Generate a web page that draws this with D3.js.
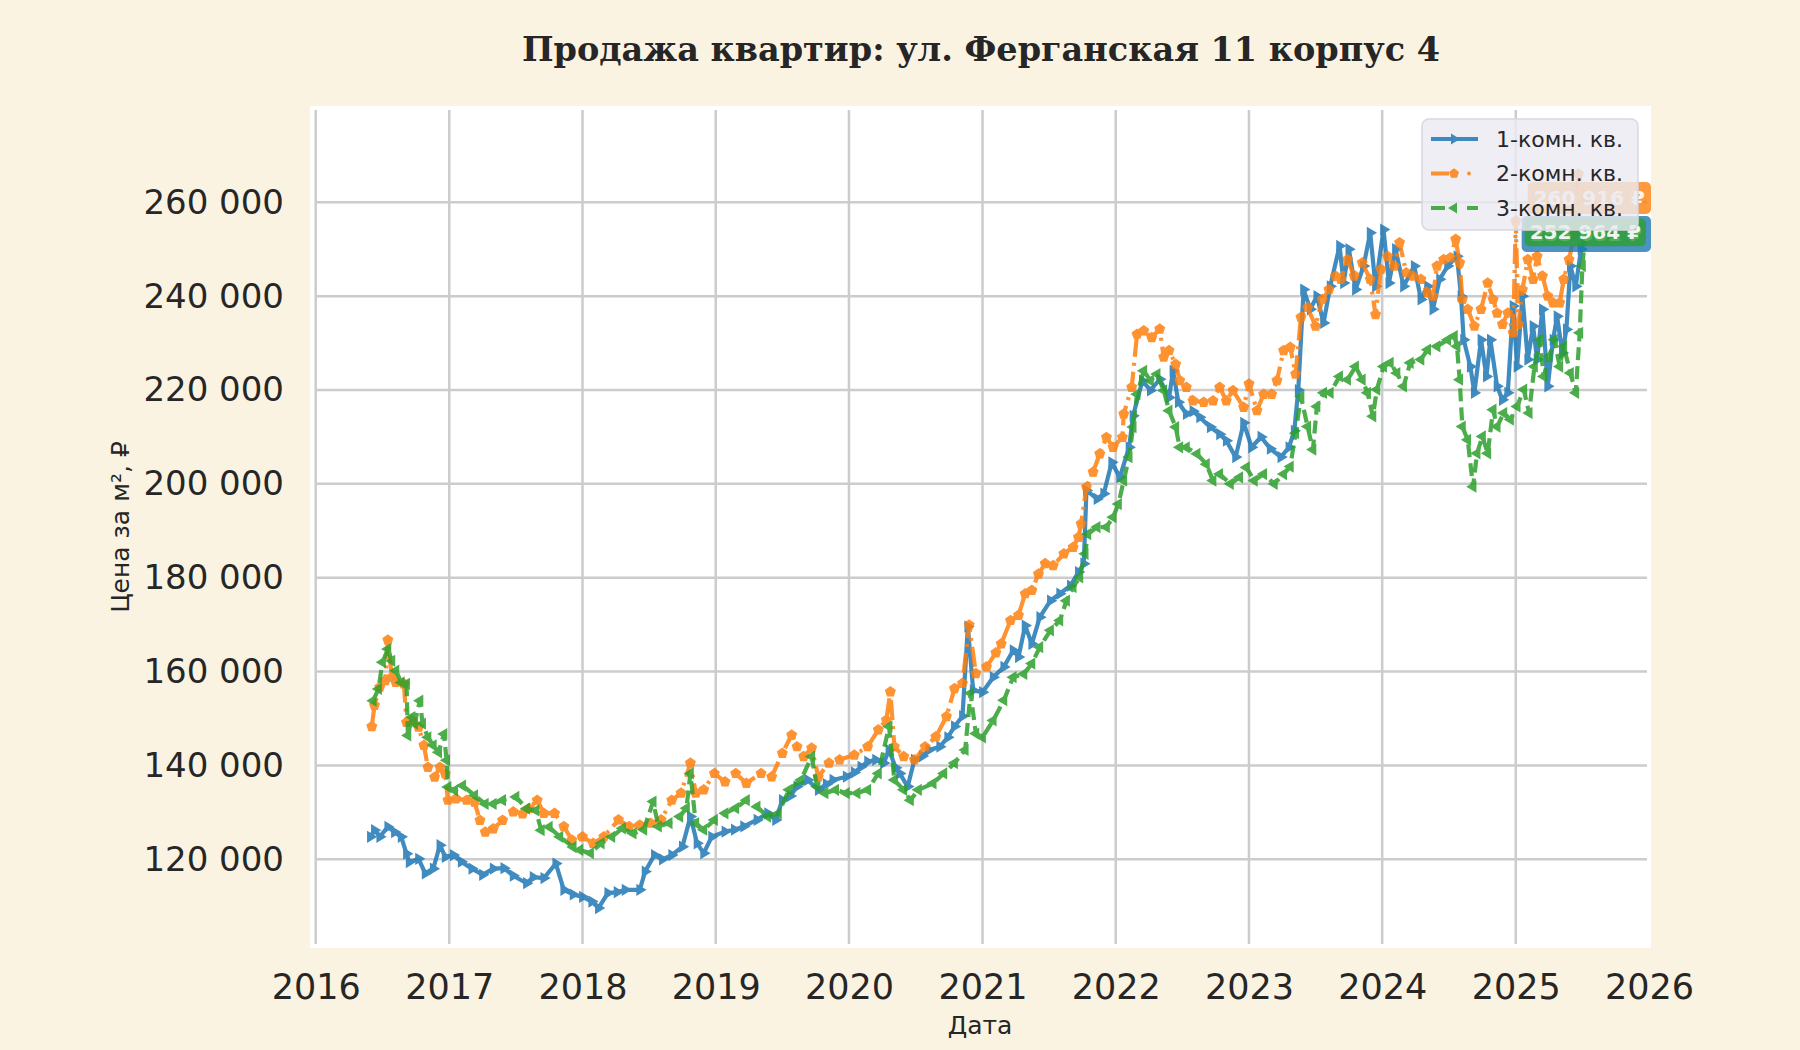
<!DOCTYPE html>
<html>
<head>
<meta charset="utf-8">
<script src="https://cdn.jsdelivr.net/npm/d3@7"></script>
<style>
html,body{margin:0;padding:0;background:#faf3e2;}
svg{display:block;}
</style>
</head>
<body>
<svg id="chart" width="1800" height="1050"></svg>
<script>
// ---------- DATA (decimal year, price in thousand ₽ per m²) ----------
const seriesNames = ["1-комн. кв.", "2-комн. кв.", "3-комн. кв."];
const seriesColors = ["#1f77b4", "#ff7f0e", "#2ca02c"];
const xTickYears = [2016, 2017, 2018, 2019, 2020, 2021, 2022, 2023, 2024, 2025, 2026];
const yTickValues = [120000, 140000, 160000, 180000, 200000, 220000, 240000, 260000];
const lastValues = [253681, 260916, 252964];

const room1 = [
[2016.41,124.8],[2016.44,126.2],[2016.48,124.8],[2016.54,126.9],[2016.59,125.8],[2016.64,124.8],[2016.68,121.2],[2016.70,119.4],
[2016.77,120.1],[2016.82,117.0],[2016.88,118.0],[2016.93,123.0],[2016.97,120.5],[2017.03,120.9],[2017.09,119.5],[2017.17,118.0],
[2017.25,116.7],[2017.33,118.0],[2017.41,118.1],[2017.48,116.5],[2017.58,114.9],[2017.63,116.2],[2017.71,116.0],[2017.80,119.1],
[2017.86,113.5],[2017.93,112.5],[2018.00,112.0],[2018.07,111.0],[2018.12,109.6],[2018.19,112.8],[2018.26,113.0],[2018.32,113.5],
[2018.43,113.5],[2018.47,117.4],[2018.54,120.9],[2018.60,120.0],[2018.67,120.9],[2018.75,122.7],[2018.81,129.1],[2018.86,123.4],
[2018.91,121.3],[2018.97,124.8],[2019.07,125.9],[2019.14,126.3],[2019.21,127.0],[2019.31,128.4],[2019.39,129.8],[2019.45,128.4],
[2019.50,132.6],[2019.56,133.5],[2019.61,135.5],[2019.69,136.9],[2019.77,134.8],[2019.83,136.0],[2019.88,136.9],[2019.98,137.6],
[2020.04,138.5],[2020.09,139.7],[2020.14,140.8],[2020.20,141.2],[2020.26,140.5],[2020.30,143.3],[2020.35,139.5],[2020.38,138.3],
[2020.44,135.5],[2020.49,141.2],[2020.55,142.0],[2020.60,143.3],[2020.68,144.0],[2020.74,146.0],[2020.79,148.3],[2020.85,150.5],
[2020.89,169.6],[2020.93,156.0],[2021.00,155.6],[2021.08,158.8],[2021.16,161.0],[2021.23,164.5],[2021.27,163.1],[2021.32,169.8],
[2021.37,165.9],[2021.43,171.6],[2021.51,175.1],[2021.58,176.6],[2021.66,178.3],[2021.72,181.2],[2021.76,183.0],[2021.78,198.6],
[2021.86,196.8],[2021.91,197.9],[2021.97,204.6],[2022.03,201.4],[2022.10,207.8],[2022.13,214.5],[2022.20,222.0],[2022.26,219.9],
[2022.33,222.3],[2022.40,218.4],[2022.43,224.1],[2022.47,217.4],[2022.53,214.9],[2022.58,215.5],[2022.63,214.2],[2022.71,212.1],
[2022.78,210.6],[2022.83,209.2],[2022.90,205.7],[2022.96,213.0],[2023.02,207.8],[2023.09,210.0],[2023.16,207.5],[2023.24,205.7],
[2023.30,207.8],[2023.34,211.3],[2023.37,220.0],[2023.41,241.4],[2023.46,237.2],[2023.51,240.0],[2023.56,234.3],[2023.61,242.1],
[2023.68,250.7],[2023.71,242.8],[2023.75,250.0],[2023.80,241.4],[2023.86,246.4],[2023.91,253.5],[2023.95,242.1],[2024.01,254.2],
[2024.05,242.8],[2024.10,250.0],[2024.16,242.1],[2024.24,246.4],[2024.29,239.3],[2024.34,242.1],[2024.38,237.2],[2024.43,243.6],
[2024.49,246.4],[2024.56,248.5],[2024.59,240.0],[2024.61,230.7],[2024.66,225.0],[2024.69,219.4],[2024.74,230.7],[2024.78,222.9],
[2024.81,230.7],[2024.86,220.8],[2024.90,217.9],[2024.94,219.4],[2024.98,237.9],[2025.01,225.0],[2025.05,240.0],[2025.09,226.5],
[2025.13,233.6],[2025.16,226.5],[2025.20,237.2],[2025.24,220.8],[2025.28,230.7],[2025.31,235.7],[2025.35,227.9],[2025.38,232.9],
[2025.41,246.4],[2025.45,242.1],[2025.49,250.0],[2025.52,253.7]
];

const room2 = [
[2016.42,148.3],[2016.44,152.8],[2016.48,156.7],[2016.52,158.1],[2016.54,166.7],[2016.57,158.8],[2016.60,157.7],[2016.66,157.4],
[2016.68,149.2],[2016.72,149.6],[2016.77,148.2],[2016.81,144.3],[2016.84,139.6],[2016.89,137.5],[2016.93,139.6],[2016.97,138.2],
[2016.99,132.6],[2017.05,132.9],[2017.13,132.6],[2017.19,132.2],[2017.23,128.3],[2017.27,125.8],[2017.33,126.5],[2017.40,128.3],
[2017.48,130.1],[2017.55,129.7],[2017.60,130.8],[2017.66,132.6],[2017.71,129.8],[2017.79,129.8],[2017.86,127.0],[2017.92,124.1],
[2018.00,124.8],[2018.08,123.4],[2018.16,124.8],[2018.27,128.4],[2018.35,127.0],[2018.43,127.3],[2018.51,127.7],[2018.59,128.4],
[2018.67,132.6],[2018.74,134.1],[2018.81,140.5],[2018.85,134.1],[2018.91,134.8],[2018.99,138.3],[2019.07,136.5],[2019.15,138.3],
[2019.23,136.2],[2019.34,138.3],[2019.42,137.6],[2019.50,142.6],[2019.57,146.5],[2019.61,144.0],[2019.66,141.9],[2019.72,143.7],
[2019.77,137.6],[2019.85,140.5],[2019.93,141.2],[2020.04,142.2],[2020.14,144.0],[2020.22,147.6],[2020.28,149.7],[2020.31,155.7],
[2020.34,144.0],[2020.41,141.9],[2020.49,141.2],[2020.57,144.0],[2020.65,146.1],[2020.73,150.4],[2020.79,156.4],[2020.85,157.5],
[2020.90,169.9],[2020.95,159.6],[2021.03,161.0],[2021.10,164.0],[2021.14,165.9],[2021.21,170.9],[2021.27,172.0],[2021.32,176.6],
[2021.37,177.3],[2021.42,180.8],[2021.47,183.0],[2021.53,182.6],[2021.61,185.1],[2021.68,186.5],[2021.72,188.6],[2021.74,191.5],
[2021.78,199.3],[2021.83,202.5],[2021.88,206.4],[2021.93,209.9],[2021.98,207.8],[2022.05,209.9],[2022.06,214.9],[2022.12,220.6],
[2022.16,231.9],[2022.21,232.6],[2022.27,231.2],[2022.33,233.0],[2022.36,227.0],[2022.40,228.4],[2022.45,225.5],[2022.48,222.0],
[2022.53,220.6],[2022.58,217.7],[2022.66,217.4],[2022.73,217.7],[2022.78,220.6],[2022.83,217.7],[2022.88,219.9],[2022.96,216.3],
[2023.00,221.3],[2023.06,215.6],[2023.11,219.1],[2023.17,219.1],[2023.21,222.0],[2023.26,228.4],[2023.31,229.1],[2023.35,223.4],
[2023.39,235.5],[2023.44,237.6],[2023.50,233.6],[2023.55,239.3],[2023.60,241.4],[2023.65,244.3],[2023.69,243.6],[2023.74,247.8],
[2023.79,244.3],[2023.85,247.1],[2023.91,243.6],[2023.95,236.1],[2023.99,245.7],[2024.04,248.5],[2024.09,246.4],[2024.13,251.4],
[2024.18,245.0],[2024.23,244.3],[2024.29,243.6],[2024.34,240.7],[2024.38,240.0],[2024.41,246.4],[2024.46,247.8],[2024.51,248.2],
[2024.55,252.1],[2024.58,247.1],[2024.60,239.3],[2024.64,237.2],[2024.69,233.6],[2024.74,237.2],[2024.79,242.8],[2024.83,239.3],
[2024.86,236.4],[2024.90,234.0],[2024.94,236.4],[2024.98,232.2],[2025.00,256.0],[2025.02,234.0],[2025.05,241.4],[2025.09,247.8],
[2025.13,243.6],[2025.16,248.5],[2025.20,244.3],[2025.24,240.0],[2025.28,238.6],[2025.33,238.6],[2025.36,243.6],[2025.40,247.8],
[2025.44,253.5],[2025.47,266.0],[2025.52,260.9]
];

const room3 = [
[2016.43,153.8],[2016.47,156.3],[2016.50,162.0],[2016.54,164.8],[2016.57,162.3],[2016.60,160.2],[2016.64,157.7],[2016.68,157.4],
[2016.69,146.4],[2016.72,150.3],[2016.74,148.9],[2016.78,153.8],[2016.80,148.9],[2016.84,146.0],[2016.88,144.3],[2016.92,142.8],
[2016.96,146.7],[2016.98,141.1],[2016.99,135.4],[2017.04,134.7],[2017.10,135.7],[2017.19,133.6],[2017.27,131.8],[2017.33,131.8],
[2017.40,132.6],[2017.50,133.3],[2017.58,130.8],[2017.65,130.4],[2017.69,126.2],[2017.75,126.9],[2017.83,124.8],[2017.93,122.6],
[2017.98,122.0],[2018.06,121.3],[2018.14,123.4],[2018.22,124.8],[2018.30,126.6],[2018.38,125.5],[2018.46,126.3],[2018.53,132.3],
[2018.57,127.0],[2018.65,127.7],[2018.73,129.1],[2018.78,130.9],[2018.81,138.3],[2018.85,127.7],[2018.91,126.3],[2018.99,128.4],
[2019.07,129.8],[2019.15,130.9],[2019.23,132.6],[2019.31,131.2],[2019.39,129.1],[2019.47,129.8],[2019.55,134.8],[2019.64,136.9],
[2019.72,141.9],[2019.76,135.5],[2019.82,134.1],[2019.90,134.8],[2019.98,134.1],[2020.06,134.1],[2020.14,134.8],[2020.22,138.3],
[2020.30,148.3],[2020.34,136.9],[2020.41,134.8],[2020.46,132.6],[2020.52,134.8],[2020.63,136.2],[2020.71,138.3],[2020.79,140.5],
[2020.87,143.3],[2020.91,155.4],[2020.95,146.8],[2021.00,146.0],[2021.08,149.6],[2021.16,153.9],[2021.23,158.8],[2021.31,159.5],
[2021.37,161.7],[2021.43,165.2],[2021.51,168.8],[2021.58,170.9],[2021.63,175.1],[2021.68,178.0],[2021.73,180.1],[2021.77,185.1],
[2021.79,189.3],[2021.86,190.8],[2021.93,190.8],[2021.98,192.9],[2022.02,195.7],[2022.06,200.7],[2022.10,205.7],[2022.13,212.1],
[2022.16,219.1],[2022.21,224.1],[2022.26,222.0],[2022.31,223.4],[2022.36,219.9],[2022.40,215.6],[2022.45,212.1],[2022.48,207.8],
[2022.53,207.8],[2022.61,206.4],[2022.68,204.2],[2022.73,200.7],[2022.78,202.1],[2022.86,200.0],[2022.93,201.4],[2022.98,203.5],
[2023.04,200.7],[2023.11,202.1],[2023.19,200.0],[2023.26,202.1],[2023.31,203.7],[2023.35,210.8],[2023.39,218.6],[2023.44,212.2],
[2023.48,207.3],[2023.51,216.5],[2023.56,219.4],[2023.61,219.4],[2023.68,222.9],[2023.74,222.2],[2023.80,225.0],[2023.85,222.2],
[2023.89,219.4],[2023.93,214.4],[2023.96,220.1],[2024.01,225.0],[2024.06,225.8],[2024.11,223.6],[2024.16,220.8],[2024.21,225.8],
[2024.29,226.5],[2024.34,228.6],[2024.41,229.3],[2024.49,230.7],[2024.54,231.5],[2024.56,229.3],[2024.58,222.2],[2024.60,212.2],
[2024.64,209.4],[2024.68,199.4],[2024.71,206.5],[2024.75,210.1],[2024.79,206.5],[2024.83,215.8],[2024.86,212.2],[2024.91,215.1],
[2024.96,213.7],[2025.01,216.5],[2025.06,220.1],[2025.10,215.1],[2025.14,225.0],[2025.18,230.7],[2025.21,222.9],[2025.25,227.2],
[2025.29,230.7],[2025.33,225.0],[2025.36,229.3],[2025.41,223.6],[2025.45,219.4],[2025.48,232.2],[2025.50,246.4],[2025.52,253.0]
];

const allSeries = [room1, room2, room3];

// ---------- HELPERS ----------
function toDate(y) {
  const yr = Math.floor(y);
  const a = Date.UTC(yr, 0, 1), b = Date.UTC(yr + 1, 0, 1);
  return new Date(a + (y - yr) * (b - a));
}
const fmt = v => d3.format(",")(v).replace(/,/g, " ");

// ---------- LAYOUT ----------
const svg = d3.select("#chart");
const W = 1800, H = 1050;
const plot = {left: 315.7, right: 1647, top: 110, bottom: 944};

svg.append("rect").attr("width", W).attr("height", H).attr("fill", "#faf3e2");
svg.append("rect").attr("x", 310).attr("y", 106).attr("width", 1341).attr("height", 842).attr("fill", "#ffffff");

const x = d3.scaleUtc()
  .domain([toDate(2016), toDate(2026)])
  .range([315.7, 1649]);
const y = d3.scaleLinear()
  .domain([120000, 260000])
  .range([859.3, 202.3]);

// grid
const grid = svg.append("g");
grid.selectAll("line.v").data(xTickYears.filter(d => d < 2026)).join("line")
  .attr("x1", d => x(toDate(d))).attr("x2", d => x(toDate(d)))
  .attr("y1", plot.top).attr("y2", plot.bottom)
  .attr("stroke", "#cccccc").attr("stroke-width", 2.5);
grid.selectAll("line.h").data(yTickValues).join("line")
  .attr("x1", plot.left).attr("x2", plot.right)
  .attr("y1", d => y(d)).attr("y2", d => y(d))
  .attr("stroke", "#cccccc").attr("stroke-width", 2.5);

// axes via d3.axis
const xAxis = d3.axisBottom(x)
  .tickValues(xTickYears.map(toDate))
  .tickFormat(d3.utcFormat("%Y"))
  .tickSize(0).tickPadding(0);
const gx = svg.append("g").attr("transform", "translate(0,974)").call(xAxis);
gx.select(".domain").remove();
gx.selectAll("text").attr("font-family", "DejaVu Sans").attr("font-size", 35)
  .attr("fill", "#262626").attr("dy", "0.71em");

const yAxis = d3.axisLeft(y).tickValues(yTickValues).tickFormat(fmt).tickSize(0).tickPadding(0);
const gy = svg.append("g").attr("transform", "translate(284,0)").call(yAxis);
gy.select(".domain").remove();
gy.selectAll("text").attr("font-family", "DejaVu Sans").attr("font-size", 34)
  .attr("fill", "#262626");

// titles
svg.append("text").attr("x", 981).attr("y", 61).attr("text-anchor", "middle")
  .attr("font-family", "DejaVu Serif").attr("font-weight", "bold").attr("font-size", 33.5)
  .attr("fill", "#262626").text("Продажа квартир: ул. Ферганская 11 корпус 4");
svg.append("text").attr("x", 980).attr("y", 1034).attr("text-anchor", "middle")
  .attr("font-family", "DejaVu Sans").attr("font-size", 25).attr("fill", "#262626").text("Дата");
svg.append("text").attr("transform", "translate(129,527) rotate(-90)").attr("text-anchor", "middle")
  .attr("font-family", "DejaVu Sans").attr("font-size", 25).attr("fill", "#262626").text("Цена за м², ₽");

// markers
const R = 6.8;
function triRight(r) { return `M${r},0L${-r*0.5},${r*0.9}L${-r*0.5},${-r*0.9}Z`; }
function triLeft(r) { return `M${-r},0L${r*0.5},${r*0.9}L${r*0.5},${-r*0.9}Z`; }
function pentagon(r) {
  let p = "";
  for (let i = 0; i < 5; i++) {
    const a = -Math.PI / 2 + i * 2 * Math.PI / 5;
    p += (i ? "L" : "M") + (r * Math.cos(a)).toFixed(2) + "," + (r * Math.sin(a)).toFixed(2);
  }
  return p + "Z";
}
const markerPaths = [triRight(R), pentagon(R * 0.85), triLeft(R)];
const dashes = [null, "20,6,3,6", "13,6"];

const line = d3.line().x(d => x(toDate(d[0]))).y(d => y(d[1] * 1000));

const clip = svg.append("clipPath").attr("id", "clip").append("rect")
  .attr("x", 310).attr("y", 106).attr("width", 1341).attr("height", 842);

const plotG = svg.append("g").attr("clip-path", "url(#clip)");
allSeries.forEach((s, i) => {
  const g = plotG.append("g").attr("opacity", 0.85);
  g.append("path").datum(s).attr("d", line)
    .attr("fill", "none").attr("stroke", seriesColors[i]).attr("stroke-width", 4.2)
    .attr("stroke-linejoin", "round")
    .attr("stroke-dasharray", dashes[i]);
  g.selectAll("path.m").data(s).join("path").attr("class", "m")
    .attr("d", markerPaths[i])
    .attr("transform", d => `translate(${x(toDate(d[0]))},${y(d[1] * 1000)})`)
    .attr("fill", seriesColors[i]);
});

// end-value annotations
const ann = svg.append("g");
const annOrder = [1, 0, 2];
const pads = {0: [9, 8], 1: [6, 6], 2: [5, 4]};
annOrder.forEach(i => {
  const v = lastValues[i];
  const label = fmt(v) + " ₽";
  const t = ann.append("text").attr("font-family", "DejaVu Sans").attr("font-weight", "bold")
    .attr("font-size", 20).attr("fill", "#ffffff").attr("fill-opacity", 0.92)
    .attr("dominant-baseline", "central").text(label);
  const tw = t.node().getComputedTextLength();
  const [px, py] = pads[i];
  const right = 1651 - (i === 2 ? 5 : 0);
  const cx = right - px - tw / 2;
  const cy = y(v) + (i === 0 ? 2 : (i === 2 ? -3 : 0));
  t.attr("x", cx).attr("y", cy).attr("text-anchor", "middle");
  ann.insert("rect", () => t.node())
    .attr("x", cx - tw / 2 - px).attr("y", cy - 10 - py)
    .attr("width", tw + 2 * px).attr("height", 20 + 2 * py)
    .attr("rx", 5).attr("fill", seriesColors[i]).attr("fill-opacity", 0.8);
});

// legend
const lg = svg.append("g");
lg.append("rect").attr("x", 1422).attr("y", 119).attr("width", 216).attr("height", 111)
  .attr("rx", 7).attr("fill", "#eaeaf2").attr("fill-opacity", 0.82)
  .attr("stroke", "#d8d8e0").attr("stroke-width", 1.5);
const legY = [139, 173.5, 208];
seriesNames.forEach((name, i) => {
  const gi = lg.append("g").attr("opacity", 0.85);
  gi.append("line").attr("x1", 1431).attr("x2", 1478).attr("y1", legY[i]).attr("y2", legY[i])
    .attr("stroke", seriesColors[i]).attr("stroke-width", 3.8)
    .attr("stroke-dasharray", i === 1 ? "18,5,3,30" : (i === 2 ? "14,22,14" : null));
  gi.append("path").attr("d", i === 1 ? pentagon(5.2) : (i === 0 ? triRight(6) : triLeft(6)))
    .attr("transform", `translate(1454,${legY[i]})`).attr("fill", seriesColors[i]);
  if (i === 1) {
    gi.append("circle").attr("cx", 1469).attr("cy", legY[i]).attr("r", 1.9).attr("fill", seriesColors[i]);
  }
  lg.append("text").attr("x", 1496).attr("y", legY[i]).attr("dominant-baseline", "central")
    .attr("font-family", "DejaVu Sans").attr("font-size", 22).attr("fill", "#262626").text(name);
});
</script>
</body>
</html>
